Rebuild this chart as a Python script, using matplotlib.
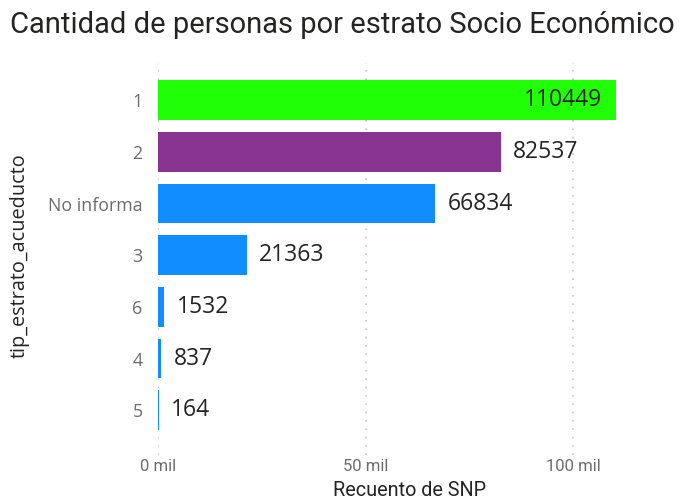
import matplotlib.pyplot as plt

categorias = ["1", "2", "No informa", "3", "6", "4", "5"]
recuento = [110449, 82537, 66834, 21363, 1532, 837, 164]
colores = ["#21FF06", "#87338F", "#118DFF", "#118DFF", "#118DFF", "#118DFF", "#118DFF"]
ticks_x = [0, 50000, 100000]
etiquetas_x = ["0 mil", "50 mil", "100 mil"]

fig = plt.figure(figsize=(6.87, 5.04), dpi=100)
ax = fig.add_axes([0.230, 0.097, 0.731, 0.778])

pos = range(len(categorias))
ax.barh(pos, recuento, height=0.77, color=colores, zorder=2)

for i, v in enumerate(recuento):
    if i == 0:
        ax.annotate(str(v), (v, i), xytext=(-10, 0), textcoords="offset points",
                    ha="right", va="center", fontsize=16.5, family="Open Sans",
                    color="#252423")
    else:
        ax.annotate(str(v), (v, i), xytext=(9, 0), textcoords="offset points",
                    ha="left", va="center", fontsize=16.5, family="Open Sans",
                    color="#252423")

ax.set_xlim(0, 121000)
ax.set_ylim(6.87, -0.72)
ax.set_yticks(list(pos))
ax.set_yticklabels(categorias, fontsize=12.8, family="Open Sans", color="#6E6C6A")
ax.set_xticks(ticks_x)
ax.set_xticklabels(etiquetas_x, fontsize=12, family="Roboto", color="#6E6C6A")
ax.tick_params(axis="y", length=0, pad=11)
ax.tick_params(axis="x", length=0, pad=3)

ax.grid(axis="x", linestyle=(0, (1, 4)), color="#C8C6C4", linewidth=1.2, zorder=0)
for s in ax.spines.values():
    s.set_visible(False)

ax.set_xlabel("Recuento de SNP", fontsize=14.3, family="Roboto", color="#252423", labelpad=5)
ax.set_ylabel("tip_estrato_acueducto", fontsize=14.3, family="Open Sans", color="#252423")
ax.yaxis.set_label_coords(-0.255, 0.51)
fig.text(0.014, 0.95, "Cantidad de personas por estrato Socio Económico",
         fontsize=21, family="Roboto", color="#252423", ha="left", va="center")

fig.savefig("out.png", dpi=100)
